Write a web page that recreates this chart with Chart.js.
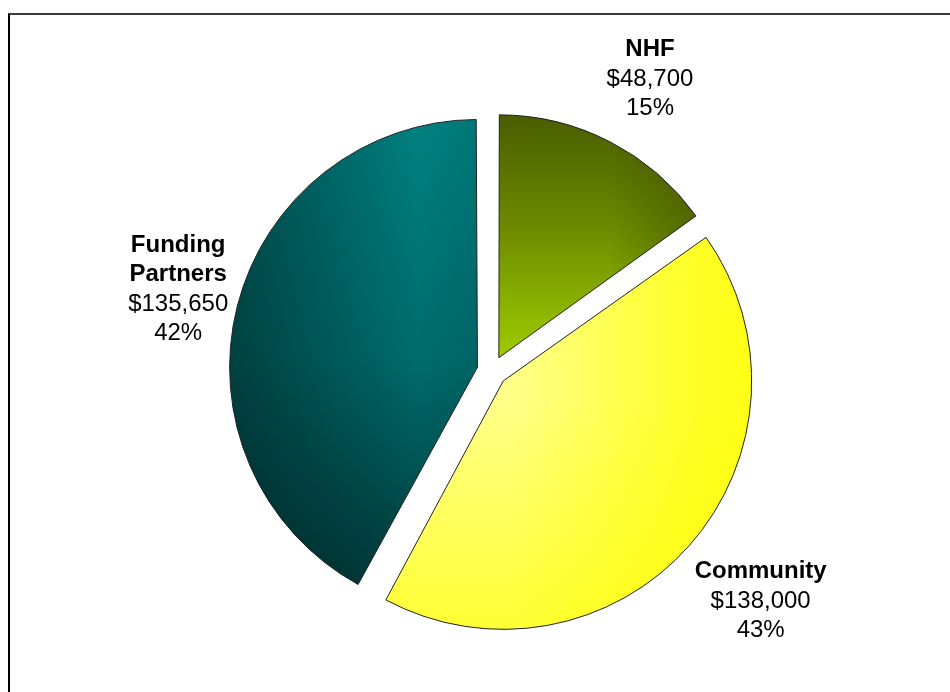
<!DOCTYPE html>
<html>
<head>
<meta charset="utf-8">
<script src="https://cdn.jsdelivr.net/npm/chart.js@4"></script>
<style>
  html, body { margin: 0; padding: 0; background: #fff; overflow: hidden; }
  #frame { position: absolute; left: 8px; top: 13px; width: 2000px; height: 2000px;
           border-top: 2px solid #3c3c3c; border-left: 2px solid #000; pointer-events: none; }
  canvas { position: absolute; left: 0; top: 0; }
</style>
</head>
<body>
<canvas id="pie" width="950" height="692"></canvas>
<div id="frame"></div>
<script>
// values
const categories = ['NHF', 'Community', 'Funding Partners'];
const labelLines = [['NHF'], ['Community'], ['Funding', 'Partners']];
const amounts = [48700, 138000, 135650];

const pieRadius = 240;
const explode = 15;   // pixels each slice is pulled out (Chart.js moves arcs by offset / 4)
const fontFamily = "'Liberation Sans', Arial, sans-serif";

// shading for each slice, drawn into an offscreen canvas used as a pattern
function shadeNHF(g, cx, cy, r) {
  var v = g.createLinearGradient(0, cy - r, 0, cy);
  v.addColorStop(0, '#4a5e00');
  v.addColorStop(0.45, '#6c8a00');
  v.addColorStop(1, '#9fcc00');
  g.fillStyle = v;
  g.fillRect(0, 0, g.canvas.width, g.canvas.height);
  var h = g.createLinearGradient(cx + 110, 0, cx + 215, 0);
  h.addColorStop(0, 'rgba(40,50,0,0)');
  h.addColorStop(1, 'rgba(40,50,0,0.45)');
  g.fillStyle = h;
  g.fillRect(0, 0, g.canvas.width, g.canvas.height);
}

function shadeCommunity(g, cx, cy, r) {
  var h = g.createLinearGradient(cx + 10, 0, cx + r, 0);
  h.addColorStop(0, '#ffff88');
  h.addColorStop(0.7, '#ffff30');
  h.addColorStop(1, '#ffff18');
  g.fillStyle = h;
  g.fillRect(0, 0, g.canvas.width, g.canvas.height);
  var v = g.createLinearGradient(0, cy + 20, 0, cy + r);
  v.addColorStop(0, 'rgba(255,255,0,0)');
  v.addColorStop(1, 'rgba(255,255,0,0.6)');
  g.fillStyle = v;
  g.fillRect(0, 0, g.canvas.width, g.canvas.height);
}

function shadeFunding(g, cx, cy, r) {
  var v = g.createLinearGradient(0, cy - r, 0, cy + r * 0.9);
  v.addColorStop(0, '#008080');
  v.addColorStop(0.5, '#006c6c');
  v.addColorStop(1, '#003c3c');
  g.fillStyle = v;
  g.fillRect(0, 0, g.canvas.width, g.canvas.height);
  var h = g.createLinearGradient(cx - r, 0, cx, 0);
  h.addColorStop(0, 'rgba(0,10,10,0.42)');
  h.addColorStop(0.75, 'rgba(0,10,10,0)');
  h.addColorStop(1, 'rgba(0,10,10,0.08)');
  g.fillStyle = h;
  g.fillRect(0, 0, g.canvas.width, g.canvas.height);
}

const shaders = [shadeNHF, shadeCommunity, shadeFunding];
const fallbackColors = ['#6c8a00', '#ffff40', '#006060'];
var patternCache = {};

function sliceFill(context) {
  var chart = context.chart;
  var area = chart.chartArea;
  var i = context.dataIndex;
  if (!area || i === undefined) return fallbackColors[i || 0];
  var key = i + ':' + chart.width + 'x' + chart.height;
  if (!patternCache[key]) {
    var off = document.createElement('canvas');
    off.width = chart.width;
    off.height = chart.height;
    var g = off.getContext('2d');
    var cx = (area.left + area.right) / 2;
    var cy = (area.top + area.bottom) / 2;
    shaders[i](g, cx, cy, pieRadius);
    patternCache[key] = chart.ctx.createPattern(off, 'no-repeat');
  }
  return patternCache[key];
}

function formatMoney(v) {
  return '$' + v.toLocaleString('en-US');
}

const sliceLabels = {
  id: 'sliceLabels',
  afterDatasetsDraw(chart) {
    var ctx = chart.ctx;
    var meta = chart.getDatasetMeta(0);
    var total = amounts.reduce(function(a, b) { return a + b; }, 0);
    var lineH = 29.5;
    meta.data.forEach(function(arc, i) {
      var p = arc.getProps(['x', 'y', 'startAngle', 'endAngle', 'outerRadius'], true);
      var mid = (p.startAngle + p.endAngle) / 2;
      var ux = Math.cos(mid), uy = Math.sin(mid);
      var shift = (arc.options.offset || 0) / 4;
      var ax = p.x + ux * shift, ay = p.y + uy * shift;

      var lines = labelLines[i].map(function(t) { return { text: t, bold: true }; });
      lines.push({ text: formatMoney(amounts[i]), bold: false });
      lines.push({ text: Math.round(amounts[i] / total * 100) + '%', bold: false });

      var w = 0;
      lines.forEach(function(l) {
        ctx.font = (l.bold ? 'bold ' : '') + '24px ' + fontFamily;
        w = Math.max(w, ctx.measureText(l.text).width);
      });
      var h = lines.length * lineH;
      var ext = Math.abs(ux) * w / 2 + Math.abs(uy) * h / 2;
      var d = p.outerRadius + 14 + ext;
      var bx = ax + ux * d + 8, by = ay + uy * d;

      ctx.save();
      ctx.fillStyle = '#000';
      ctx.textAlign = 'center';
      ctx.textBaseline = 'middle';
      lines.forEach(function(l, k) {
        ctx.font = (l.bold ? 'bold ' : '') + '24px ' + fontFamily;
        ctx.fillText(l.text, bx, by - h / 2 + lineH * (k + 0.5));
      });
      ctx.restore();
    });
  }
};

new Chart(document.getElementById('pie'), {
  type: 'pie',
  data: {
    labels: categories,
    datasets: [{
      data: amounts,
      backgroundColor: sliceFill,
      borderColor: '#222',
      borderWidth: 1,
      offset: explode * 4
    }]
  },
  options: {
    responsive: false,
    animation: false,
    radius: pieRadius,
    layout: { padding: { left: 34, top: 50, right: 0, bottom: 0 } },
    plugins: {
      legend: { display: false },
      tooltip: { enabled: false }
    }
  },
  plugins: [sliceLabels]
});
</script>
</body>
</html>
